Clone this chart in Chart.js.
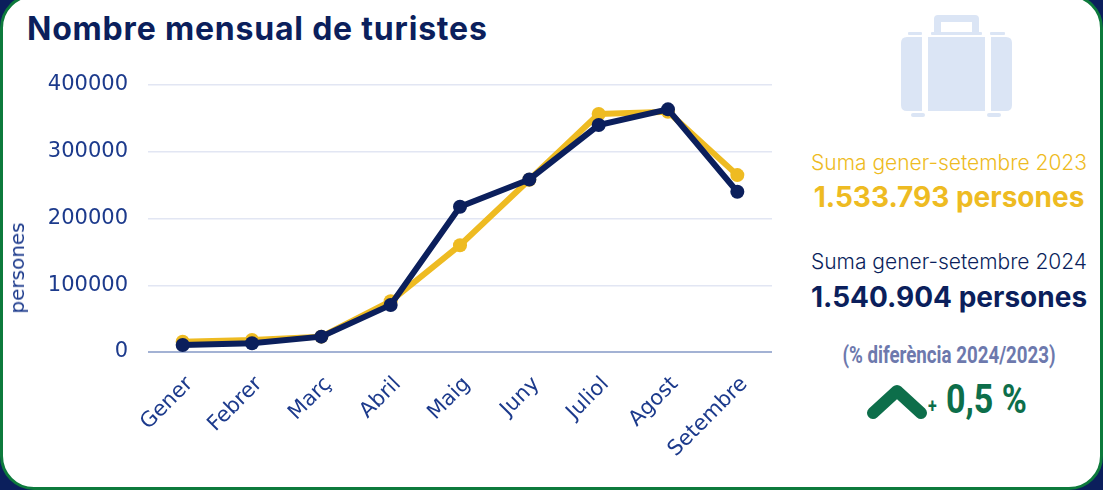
<!DOCTYPE html>
<html lang="ca">
<head>
<meta charset="utf-8">
<title>Nombre mensual de turistes</title>
<script src="https://cdn.jsdelivr.net/npm/chart.js@4.4.1/dist/chart.umd.min.js"></script>
<style>
  html, body { margin: 0; padding: 0; }
  body {
    width: 1103px; height: 490px; overflow: hidden;
    background: #0b1f5c;
  }
  .card {
    position: absolute; left: 0; top: -6px; width: 1097px; height: 490px;
    background: #fff; border: 3px solid #0d7a3c; border-radius: 34px;
  }
  .title {
    position: absolute; left: 27px; top: 9px;
    font: 700 32px "Inter", "Noto Sans", sans-serif;
    color: #0b1f5c; letter-spacing: 0.8px;
  }
  .chart-box { position: absolute; left: 0; top: 0; width: 790px; height: 490px; }
  .ytitle {
    position: absolute; left: 17px; top: 268px;
    transform: translate(-50%, -50%) rotate(-90deg);
    font: 400 20px "DejaVu Sans", sans-serif; color: #1c3a8c; white-space: nowrap;
  }
  .panel { position: absolute; left: 795px; width: 308px; top: 0; height: 490px; text-align: center; }
  .panel .icon { position: absolute; left: 0; top: 0; }
  .lbl { position: absolute; left: 0; width: 308px; white-space: nowrap; }
  .sub { font: 300 21px "Inter", "Noto Sans", sans-serif; }
  .big { font: 700 28px "Inter", "Noto Sans", sans-serif; }
  .y23 { color: #eebb22; }
  .y24 { color: #0b1f5c; }
  .diff {
    font: 700 24px "Roboto", "Noto Sans", sans-serif; color: #6d79ad;
    transform: scaleX(0.78);
  }
  .pct { position: absolute; top: 380px; left: 0; width: 308px; height: 44px; color: #0d6e4a; }
  .pct span { position: absolute; font-family: "Roboto", "Noto Sans", sans-serif; font-weight: 700; transform-origin: left center; }
</style>
</head>
<body>
<div class="card"></div>
<div class="title">Nombre mensual de turistes</div>
<div class="chart-box"><canvas id="touristChart"></canvas></div>
<div class="ytitle">persones</div>

<div class="panel">
  <svg class="icon" width="308" height="130" viewBox="795 0 308 130">
    <g fill="#dbe5f5">
      <!-- handle -->
      <path d="M934 33 V19 Q934 15 938 15 H975 Q979 15 979 19 V33 H972 V22 H941 V33 Z"/>
      <!-- lips -->
      <rect x="908" y="32" width="14" height="3" rx="1"/>
      <rect x="931" y="32" width="51" height="3" rx="1"/>
      <rect x="990" y="32" width="15" height="3" rx="1"/>
      <!-- body -->
      <path d="M907 37 H922 V111 H907 Q901 111 901 105 V43 Q901 37 907 37 Z"/>
      <rect x="928" y="37" width="57" height="74"/>
      <path d="M991 37 H1006 Q1012 37 1012 43 V105 Q1012 111 1006 111 H991 Z"/>
      <!-- feet -->
      <rect x="911" y="113" width="14" height="4" rx="2"/>
      <rect x="987" y="113" width="14" height="4" rx="2"/>
    </g>
  </svg>
  <div class="lbl sub y23" style="top:150px">Suma gener-setembre 2023</div>
  <div class="lbl big y23" style="top:180px">1.533.793 persones</div>
  <div class="lbl sub y24" style="top:249px">Suma gener-setembre 2024</div>
  <div class="lbl big y24" style="top:280px">1.540.904 persones</div>
  <div class="lbl diff" style="top:341px">(% diferència 2024/2023)</div>
  <div class="pct">
    <svg style="position:absolute;left:70px;top:3px" width="64" height="42" viewBox="0 0 64 42">
      <polyline points="8,30 32,8 56,30" fill="none" stroke="#0d6e4a" stroke-width="12"
                stroke-linecap="round" stroke-linejoin="round"/>
    </svg>
    <span style="left:133px;top:14px;font-size:20px;transform:scaleX(0.8)">+</span>
    <span style="left:151px;top:-4px;font-size:40px;transform:scaleX(0.85)">0,5 %</span>
  </div>
</div>

<script>
// --- Data ---
const months = ['Gener', 'Febrer', 'Març', 'Abril', 'Maig', 'Juny', 'Juliol', 'Agost', 'Setembre'];
const tourists2023 = [15500, 18000, 23000, 76000, 160000, 258000, 356500, 360000, 265000];
const tourists2024 = [10500, 13000, 23000, 70500, 217500, 258500, 340000, 363500, 240000];
const yTicks = [0, 100000, 200000, 300000, 400000];

const navy = '#0b1f5c';
const gold = '#eebb22';
const tickColor = '#1c3a8c';

new Chart(document.getElementById('touristChart'), {
  type: 'line',
  data: {
    labels: months,
    datasets: [
      {
        label: '2024',
        data: tourists2024,
        order: 0,
        borderColor: navy,
        backgroundColor: navy,
        borderWidth: 6,
        pointRadius: 7,
        pointBorderWidth: 0,
        pointBackgroundColor: navy,
        tension: 0
      },
      {
        label: '2023',
        data: tourists2023,
        order: 1,
        borderColor: gold,
        backgroundColor: gold,
        borderWidth: 6,
        pointRadius: 7,
        pointBorderWidth: 0,
        pointBackgroundColor: gold,
        tension: 0
      }
    ]
  },
  options: {
    responsive: true,
    maintainAspectRatio: false,
    animation: false,
    layout: { padding: { top: 85, right: 18, left: 0, bottom: 0 } },
    plugins: {
      legend: { display: false },
      tooltip: { enabled: false }
    },
    scales: {
      x: {
        offset: true,
        grid: { display: false },
        border: { display: false },
        ticks: {
          color: tickColor,
          font: { family: "'DejaVu Sans', sans-serif", size: 21 },
          minRotation: 45,
          maxRotation: 45,
          padding: 12,
          labelOffset: 7
        },
        afterFit: scale => { scale.height = 138; }
      },
      y: {
        min: yTicks[0],
        max: yTicks[yTicks.length - 1],
        afterBuildTicks: scale => { scale.ticks = yTicks.map(v => ({ value: v })); },
        border: { display: false },
        grid: {
          drawTicks: false,
          color: ctx => ctx.tick && ctx.tick.value === 0 ? '#a3b2d4' : '#e2e6f3',
          lineWidth: ctx => ctx.tick && ctx.tick.value === 0 ? 2 : 1.5
        },
        ticks: {
          color: tickColor,
          font: { family: "'DejaVu Sans', sans-serif", size: 21 },
          padding: 20,
          callback: value => String(value)
        },
        afterFit: scale => { scale.width = 148; }
      }
    }
  }
});
</script>
</body>
</html>
